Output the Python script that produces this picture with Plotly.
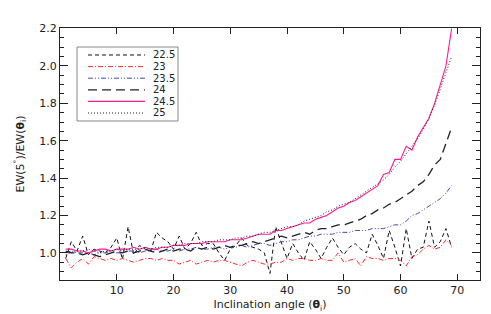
import plotly.graph_objects as go

angles = list(range(1, 70))

ew_22_5 = [0.97, 1.06, 1.01, 1.09, 0.99, 1.02, 1.01, 1.00, 1.03, 1.08,
           0.965, 1.14, 0.99, 1.04, 1.02, 1.01, 1.11, 1.08, 1.06, 1.02,
           1.09, 1.02, 1.05, 1.11, 1.04, 1.05, 1.05, 1.00, 0.96, 1.02,
           1.04, 1.08, 1.04, 1.03, 1.02, 1.00, 0.89, 1.14, 1.06, 0.97,
           1.05, 1.00, 0.96, 1.06, 1.02, 0.97, 1.03, 1.08, 1.03, 0.99,
           1.03, 1.05, 1.02, 1.00, 1.10, 1.04, 0.97, 1.12, 1.03, 0.93,
           1.13, 0.97, 1.02, 1.03, 1.17, 1.03, 1.06, 1.13, 1.03]

ew_23 = [0.97, 0.92, 0.95, 0.97, 0.94, 0.98, 0.97, 0.96, 0.97, 0.96,
         0.97, 0.96, 0.95, 0.96, 0.97, 0.97, 0.96, 0.97, 0.96, 0.96,
         0.94, 0.95, 0.96, 0.94, 0.95, 0.96, 0.95, 0.96, 0.96, 0.95,
         0.94, 0.93, 0.95, 0.96, 0.95, 0.94, 0.94, 0.95, 0.95, 0.97,
         0.96, 0.97, 0.97, 0.96, 0.96, 0.97, 0.96, 0.96, 1.00, 0.95,
         0.96, 0.97, 0.93, 0.98, 0.97, 0.97, 0.96, 0.97, 0.97, 0.96,
         0.93, 0.98, 0.99, 1.02, 1.04, 1.02, 1.03, 1.07, 1.04]

ew_23_5 = [1.00, 1.01, 1.00, 1.00, 1.00, 0.99, 1.00, 1.00, 1.01, 1.00,
           1.00, 1.01, 1.01, 1.00, 1.01, 1.01, 1.02, 1.01, 1.01, 1.02,
           1.01, 1.02, 1.02, 1.03, 1.02, 1.02, 1.03, 1.03, 1.02, 1.03,
           1.03, 1.04, 1.03, 1.04, 1.05, 1.05, 1.04, 1.05, 1.06, 1.06,
           1.07, 1.07, 1.08, 1.09, 1.09, 1.10, 1.10, 1.10, 1.11, 1.11,
           1.11, 1.12, 1.12, 1.12, 1.13, 1.13, 1.13, 1.14, 1.15, 1.15,
           1.17, 1.20, 1.21, 1.23, 1.25, 1.27, 1.29, 1.32, 1.36]

ew_24 = [1.01, 1.00, 1.00, 0.99, 1.00, 0.99, 0.98, 0.99, 1.00, 1.01,
         1.00, 1.01, 1.00, 1.01, 1.02, 1.01, 1.00, 1.01, 1.02, 1.01,
         1.02, 1.02, 1.01, 1.03, 1.02, 1.03, 1.02, 1.03, 1.04, 1.03,
         1.04, 1.04, 1.05, 1.06, 1.05, 1.06, 1.07, 1.08, 1.09, 1.08,
         1.09, 1.10, 1.11, 1.10, 1.12, 1.13, 1.13, 1.14, 1.15, 1.15,
         1.16, 1.17, 1.18, 1.20, 1.21, 1.23, 1.24, 1.26, 1.27, 1.29,
         1.31, 1.33, 1.36, 1.38, 1.42, 1.47, 1.50, 1.58, 1.67]

ew_24_5 = [1.02, 1.02, 1.01, 1.01, 1.00, 1.01, 1.02, 1.02, 1.01, 1.02,
           1.02, 1.02, 1.03, 1.02, 1.03, 1.02, 1.02, 1.03, 1.03, 1.04,
           1.04, 1.04, 1.05, 1.05, 1.05, 1.06, 1.06, 1.06, 1.06, 1.07,
           1.07, 1.07, 1.08, 1.09, 1.10, 1.10, 1.10, 1.12, 1.12, 1.13,
           1.14, 1.15, 1.16, 1.16, 1.18, 1.19, 1.20, 1.22, 1.24, 1.25,
           1.27, 1.28, 1.30, 1.32, 1.34, 1.36, 1.42, 1.43, 1.50, 1.50,
           1.57, 1.55, 1.62, 1.67, 1.72, 1.80, 1.90, 2.00, 2.20]

ew_25 = [0.99, 1.00, 1.01, 1.01, 1.02, 1.01, 1.00, 1.01, 1.01, 1.02,
         1.01, 1.02, 1.02, 1.02, 1.03, 1.02, 1.03, 1.03, 1.03, 1.04,
         1.04, 1.05, 1.05, 1.05, 1.06, 1.06, 1.06, 1.07, 1.07, 1.07,
         1.08, 1.08, 1.09, 1.09, 1.10, 1.11, 1.11, 1.12, 1.13, 1.14,
         1.14, 1.15, 1.17, 1.18, 1.19, 1.20, 1.22, 1.23, 1.25, 1.26,
         1.27, 1.29, 1.31, 1.33, 1.35, 1.37, 1.39, 1.42, 1.46, 1.49,
         1.53, 1.57, 1.61, 1.66, 1.72, 1.79, 1.88, 1.96, 2.05]

series_names = ["22.5", "23", "23.5", "24", "24.5", "25"]
series_values = [ew_22_5, ew_23, ew_23_5, ew_24, ew_24_5, ew_25]

styles = [
    dict(color="#111111", dash="4px,3px", width=1),
    dict(color="#ff2a2a", dash="5px,2px,1px,2px", width=1),
    dict(color="#4646b4", dash="5px,2px,1px,2px,1px,2px", width=1),
    dict(color="#222222", dash="9px,5px", width=1.3),
    dict(color="#ff1a9c", dash="solid", width=1.1),
    dict(color="#222222", dash="1px,2px", width=1),
]

fig = go.Figure()
for name, vals, st in zip(series_names, series_values, styles):
    fig.add_trace(go.Scatter(x=angles, y=vals, mode="lines", name=name, line=st,
                             showlegend=False))

# Hand-drawn legend box (paper coordinates of the plotting area)
legend_box = dict(x0=0.0405, x1=0.281, y0=0.631, y1=0.9246)
legend_line_x = (0.0667, 0.2024)
legend_text_x = 0.219
legend_row_y = [0.8929, 0.8468, 0.8008, 0.7548, 0.7087, 0.6627]

fig.add_shape(type="rect", xref="paper", yref="paper",
              line=dict(color="#888888", width=1), fillcolor="rgba(0,0,0,0)",
              **legend_box)
for name, st, yy in zip(series_names, styles, legend_row_y):
    fig.add_shape(type="line", xref="paper", yref="paper",
                  x0=legend_line_x[0], x1=legend_line_x[1], y0=yy, y1=yy,
                  line=dict(color=st["color"], dash=st["dash"], width=st["width"]))
    fig.add_annotation(xref="paper", yref="paper", x=legend_text_x, y=yy,
                       text=name, showarrow=False, xanchor="left", yanchor="middle",
                       borderpad=0, font=dict(size=10, color="#222222"))

font = "DejaVu Sans, Liberation Sans, sans-serif"
fig.update_layout(
    width=491, height=314,
    margin=dict(l=52, r=19, t=20, b=42),
    paper_bgcolor="white", plot_bgcolor="white",
    font=dict(family=font, size=11, color="#222222"),
    showlegend=False,
    xaxis=dict(range=[0, 74], tickvals=[10, 20, 30, 40, 50, 60, 70],
               ticks="inside", ticklen=6, tickcolor="#222222", showgrid=False,
               zeroline=False, showline=True, linecolor="#222222", linewidth=1,
               mirror="ticks",
               title=dict(text="Inclination angle (<b>θ</b><sub>i</sub>)", standoff=4,
                          font=dict(size=11))),
    yaxis=dict(range=[0.855, 2.203], tickvals=[1.0, 1.2, 1.4, 1.6, 1.8, 2.0, 2.2],
               tickformat=".1f",
               ticks="inside", ticklen=8, tickcolor="#222222", showgrid=False,
               zeroline=False, showline=True, linecolor="#222222", linewidth=1,
               mirror="ticks",
               minor=dict(dtick=0.05, ticks="inside", ticklen=4, tickcolor="#222222"),
               title=dict(text="EW(5<sup>°</sup>)/EW(<b>θ</b><sub>i</sub>)", standoff=12,
                          font=dict(size=11))),
)

fig.write_html("out.html")
